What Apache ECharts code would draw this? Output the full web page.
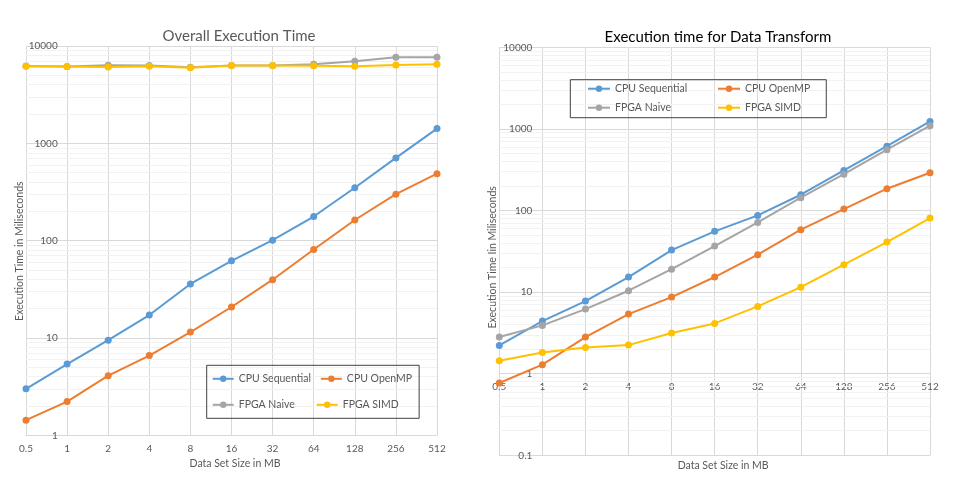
<!DOCTYPE html>
<html><head><meta charset="utf-8">
<script src="https://cdn.jsdelivr.net/npm/echarts@6/dist/echarts.min.js"></script>
<style>html,body{margin:0;padding:0;background:#fff}#c{width:971px;height:498px}</style>
</head><body><div id="c"></div>
<script>
// ---- data ----
const sizes = ['0.5','1','2','4','8','16','32','64','128','256','512'];
const seriesNames = ['CPU Sequential','CPU OpenMP','FPGA Naive','FPGA SIMD'];
// Overall Execution Time (ms)
const overallCpuSeq    = [3.0, 5.4, 9.5, 17.2, 35.9, 62, 101, 177, 350, 708, 1416];
const overallCpuOmp    = [1.43, 2.22, 4.1, 6.6, 11.5, 20.8, 39.7, 81, 163, 300, 488];
const overallFpgaNaive = [6230, 6150, 6350, 6300, 6040, 6300, 6300, 6490, 6960, 7650, 7650];
const overallFpgaSimd  = [6200, 6150, 6080, 6200, 5990, 6300, 6300, 6280, 6180, 6380, 6480];
// Execution time for Data Transform (ms)
const transCpuSeq    = [2.22, 4.41, 7.76, 15.3, 32.7, 55.5, 87, 156, 310, 615, 1236];
const transCpuOmp    = [0.77, 1.29, 2.81, 5.38, 8.69, 15.3, 28.7, 58.2, 104, 185, 290];
const transFpgaNaive = [2.81, 3.91, 6.19, 10.4, 19.1, 36.6, 71.5, 143.5, 279, 556, 1094];
const transFpgaSimd  = [1.44, 1.82, 2.10, 2.24, 3.15, 4.13, 6.68, 11.5, 21.7, 41, 80.7];
// minor gridline multipliers
const minorMult = [2,3,4,5,6,7,8,9];

const colors = ['#5B9BD5','#ED7D31','#A5A5A5','#FFC000'];
const FONT = 'Lato';
const GRAY = '#595959';

function minorLines(lo, hi){
  const out = [];
  for (let d = lo; d < hi; d *= 10) minorMult.forEach(m => out.push({yAxis: +(d*m).toPrecision(6)}));
  return out;
}
function lineSeries(name, data, idx, color){
  return {
    name, type:'line', data, xAxisIndex: idx, yAxisIndex: idx,
    symbol:'circle', symbolSize:7, color,
    lineStyle:{width:2, color}, itemStyle:{color},
    z: 3, emphasis:{disabled:true}
  };
}
function helperSeries(idx, lo, hi){
  return {
    type:'line', data: sizes.map(()=>null), xAxisIndex: idx, yAxisIndex: idx,
    silent:true, z:1, symbol:'none',
    markLine:{silent:true, z:1, symbol:'none', label:{show:false}, emphasis:{disabled:true},
      lineStyle:{color:'#F2F2F2', width:1, type:'solid'}, data: minorLines(lo, hi)}
  };
}
const fmt = v => String(+(+v).toPrecision(6));
const colNames = ['CPU Sequential','FPGA Naive'];
function legendFmt(name){ return colNames.includes(name) ? '{a|'+name+'}' : name; }

const option = {
  animation:false,
  color: colors,
  textStyle:{fontFamily:FONT},
  title:[
    {text:'Overall Execution Time', left:239, top:28.5, textAlign:'center', padding:0,
     textStyle:{fontFamily:FONT, fontSize:15, fontWeight:'normal', color:GRAY}},
    {text:'Execution time for Data Transform', left:718, top:30, textAlign:'center', padding:0,
     textStyle:{fontFamily:FONT, fontSize:15, fontWeight:'normal', color:'#000'}}
  ],
  legend:[
    {data:seriesNames, left:206.7, top:365.3, width:240, orient:'horizontal',
     padding:[5,7,5,5], itemGap:9, itemWidth:21, itemHeight:8,
     borderColor:'#404040', borderWidth:1, formatter:legendFmt,
     textStyle:{fontFamily:FONT, fontSize:10.5, color:GRAY, lineHeight:17,
       rich:{a:{width:68, fontFamily:FONT, fontSize:10.5, color:GRAY, lineHeight:17}}}},
    {data:seriesNames, left:570.3, top:79.7, width:265, orient:'horizontal',
     padding:[2,16,3,16.7], itemGap:5, itemWidth:22, itemHeight:8,
     borderColor:'#404040', borderWidth:1, formatter:legendFmt,
     textStyle:{fontFamily:FONT, fontSize:10.5, color:GRAY, lineHeight:14,
       rich:{a:{width:97, fontFamily:FONT, fontSize:10.5, color:GRAY, lineHeight:14}}}}
  ],
  grid:[
    {left:26, right:534, top:46, bottom:62.7, containLabel:false},
    {left:499.3, right:41, top:47.3, bottom:42.7, containLabel:false}
  ],
  xAxis:[
    {type:'category', gridIndex:0, data:sizes, boundaryGap:false,
     axisLine:{show:true, lineStyle:{color:'#D9D9D9'}}, axisTick:{show:false},
     axisLabel:{margin:8, fontSize:10, color:GRAY, fontFamily:FONT},
     splitLine:{show:true, lineStyle:{color:'#D9D9D9'}},
     name:'Data Set Size in MB', nameLocation:'middle', nameGap:17,
     nameTextStyle:{fontSize:10.5, color:GRAY, fontFamily:FONT, padding:[0,0,0,7]}},
    {type:'category', gridIndex:1, data:sizes, boundaryGap:false, offset:-82,
     axisLine:{show:true, lineStyle:{color:'#D9D9D9'}}, axisTick:{show:false},
     axisLabel:{margin:8, fontSize:10, color:GRAY, fontFamily:FONT},
     splitLine:{show:true, lineStyle:{color:'#D9D9D9'}},
     name:'Data Set Size in MB', nameLocation:'middle', nameGap:87,
     nameTextStyle:{fontSize:10.5, color:GRAY, fontFamily:FONT, padding:[0,0,0,17]}}
  ],
  yAxis:[
    {type:'log', logBase:10, gridIndex:0, min:1, max:10000, offset:-40.7,
     axisLine:{show:false}, axisTick:{show:false},
     axisLabel:{margin:9, fontSize:10, color:GRAY, fontFamily:FONT, formatter:fmt},
     splitLine:{show:true, lineStyle:{color:'#D9D9D9'}},
     name:'Execution Time in Miliseconds', nameLocation:'middle', nameGap:41,
     nameTextStyle:{fontSize:10.5, color:GRAY, fontFamily:FONT, padding:[0,21,0,0]}},
    {type:'log', logBase:10, gridIndex:1, min:0.1, max:10000, offset:-43,
     axisLine:{show:false}, axisTick:{show:false},
     axisLabel:{margin:10, fontSize:10, color:GRAY, fontFamily:FONT, formatter:fmt},
     splitLine:{show:true, lineStyle:{color:'#D9D9D9'}},
     name:'Execution Time Iin Miliseconds', nameLocation:'middle', nameGap:44,
     nameTextStyle:{fontSize:10.5, color:GRAY, fontFamily:FONT, padding:[0,12,0,0]}}
  ],
  series:[
    helperSeries(0, 1, 10000),
    lineSeries('CPU Sequential', overallCpuSeq, 0, colors[0]),
    lineSeries('CPU OpenMP', overallCpuOmp, 0, colors[1]),
    lineSeries('FPGA Naive', overallFpgaNaive, 0, colors[2]),
    lineSeries('FPGA SIMD', overallFpgaSimd, 0, colors[3]),
    helperSeries(1, 0.1, 10000),
    lineSeries('CPU Sequential', transCpuSeq, 1, colors[0]),
    lineSeries('CPU OpenMP', transCpuOmp, 1, colors[1]),
    lineSeries('FPGA Naive', transFpgaNaive, 1, colors[2]),
    lineSeries('FPGA SIMD', transFpgaSimd, 1, colors[3])
  ]
};
const chart = echarts.init(document.getElementById('c'), null, {renderer:'canvas'});
chart.setOption(option);
</script></body></html>
